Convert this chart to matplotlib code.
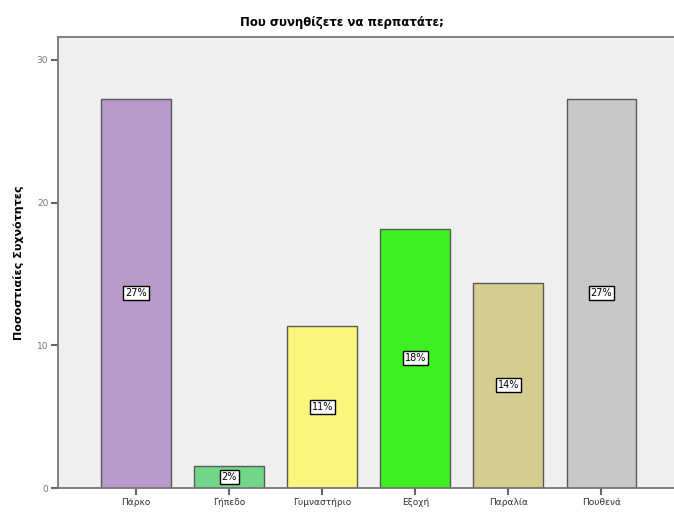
import matplotlib
matplotlib.use("Agg")
import matplotlib.pyplot as plt

categories = ["Πάρκο", "Γήπεδο", "Γυμναστήριο", "Εξοχή", "Παραλία", "Πουθενά"]
percentages = [27.27, 1.52, 11.36, 18.18, 14.39, 27.27]
bar_labels = ["27%", "2%", "11%", "18%", "14%", "27%"]
colors = ["#b89aca", "#72d68a", "#fbf57c", "#3cf11f", "#d5cc90", "#c8c8c8"]
y_ticks = [0, 10, 20, 30]

plt.rcParams["font.family"] = ["DejaVu Sans"]

fig = plt.figure(figsize=(6.74, 5.12), dpi=100)
ax = fig.add_axes([58 / 674, 1 - 488 / 512, 1 - 58 / 674, (488 - 37) / 512])
ax.set_facecolor("#efefef")

x = list(range(len(categories)))
ax.bar(x, percentages, width=0.75, color=colors, edgecolor="#5a5a5a", linewidth=1.0, zorder=2)

for xi, val, lab in zip(x, percentages, bar_labels):
    ax.text(xi, val / 2, lab, ha="center", va="center", fontsize=7, color="black",
            bbox=dict(boxstyle="square,pad=0.2", facecolor="white", edgecolor="black", linewidth=1.0),
            zorder=3)

ax.set_xlim(-0.84, 5.78)
ax.set_ylim(0, 31.6)
ax.set_xticks(x)
ax.set_xticklabels(categories, fontsize=6.5, color="#333333")
ax.set_yticks(y_ticks)
ax.set_yticklabels([str(t) for t in y_ticks], fontsize=6.5, color="#777777")
ax.tick_params(axis="both", direction="out", length=5, width=1.5, color="#666666", pad=2)

for side in ["left", "bottom", "top"]:
    ax.spines[side].set_color("#777777")
    ax.spines[side].set_linewidth(1.3)
ax.spines["right"].set_visible(False)

ax.set_ylabel("Ποσοστιαίες Συχνότητες", fontsize=8, fontweight="bold", labelpad=9)
fig.text(0.508, 0.956, "Που συνηθίζετε να περπατάτε;", ha="center", va="center",
         fontsize=8.5, fontweight="bold")

fig.savefig("out.png", dpi=100)
